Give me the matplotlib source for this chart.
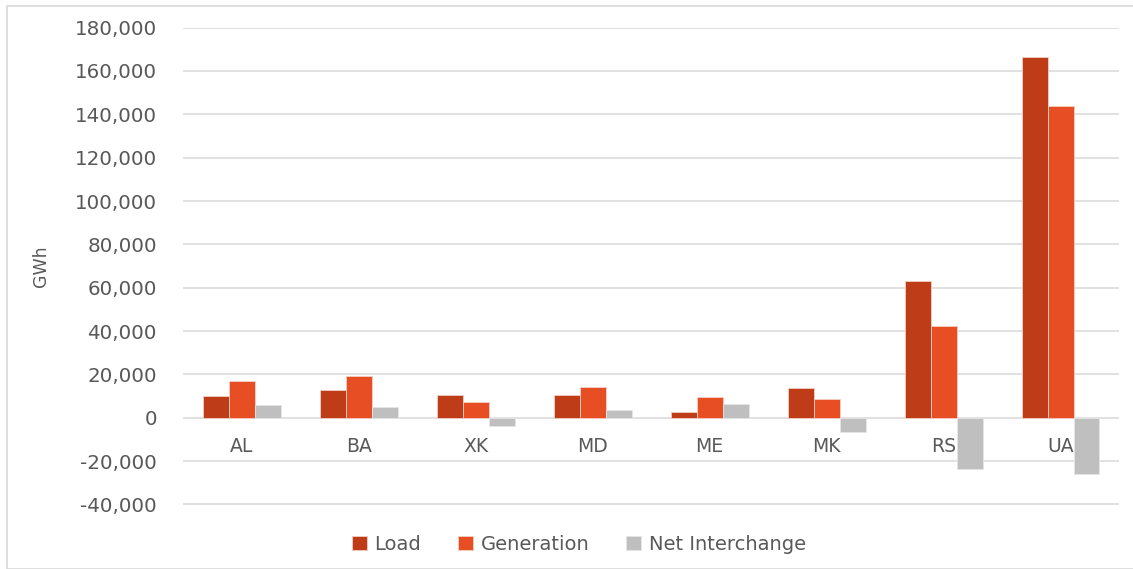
import numpy as np
import matplotlib
matplotlib.use('Agg')
import matplotlib.pyplot as plt
from matplotlib.ticker import FuncFormatter
from matplotlib.patches import Rectangle
import matplotlib.transforms as mtransforms

# 데이터 (GWh)
countries = ['AL', 'BA', 'XK', 'MD', 'ME', 'MK', 'RS', 'UA']
load = [9900, 12900, 10400, 10300, 2800, 13700, 62900, 166500]
generation = [17100, 19400, 7100, 14300, 9500, 8800, 42400, 143900]
net_interchange = [6000, 5100, -3700, 3800, 6300, -6500, -23500, -26000]

series_names = ['Load', 'Generation', 'Net Interchange']
colors = ['#BE3C18', '#E84E23', '#BFBFBF']
text_color = '#595959'

plt.rcParams['font.family'] = ['DejaVu Sans']

fig = plt.figure(figsize=(11.33, 5.69), dpi=100)
ax = fig.add_axes([183.3 / 1133, 1 - 504.5 / 569, (1119 - 183.3) / 1133, (504.5 - 27.6) / 569])

x = np.arange(len(countries))
w = 0.222
for i, (vals, name, c) in enumerate(zip([load, generation, net_interchange], series_names, colors)):
    ax.bar(x + (i - 1) * w, vals, width=w, color=c, edgecolor='#F2D0C4' if i < 2 else '#E6E6E6',
           linewidth=0.6, label=name, zorder=3)

ax.set_xlim(-0.5, len(countries) - 0.5)
ax.set_ylim(-40000, 180000)
ax.set_yticks(np.arange(-40000, 180001, 20000))
ax.yaxis.set_major_formatter(FuncFormatter(lambda v, p: f'{int(v):,}'))
ax.grid(axis='y', color='#D9D9D9', linewidth=1.1, zorder=0)
ax.set_xticks([])
ax.tick_params(axis='y', length=0, pad=19, labelsize=14.3, labelcolor=text_color)
for s in ax.spines.values():
    s.set_visible(False)

# 카테고리 라벨은 0 축 바로 아래에
offset = mtransforms.offset_copy(ax.transData, fig=fig, x=0, y=-14, units='points')
for xi, name in zip(x, countries):
    ax.text(xi, 0, name, transform=offset, ha='center', va='top', fontsize=13.5, color=text_color)

ax.set_ylabel('GWh', fontsize=12.5, color=text_color, family='Liberation Sans Narrow')
ax.yaxis.set_label_coords(-0.142, 0.5)

leg = fig.legend(loc='center', bbox_to_anchor=(579 / 1133, 1 - 544 / 569), ncol=3, frameon=False,
                 fontsize=14, handlelength=0.75, handleheight=0.75, handletextpad=0.4, columnspacing=1.9)
for t in leg.get_texts():
    t.set_color(text_color)

# 차트 테두리
fig.patches.append(Rectangle((7 / 1133, 0), 1.2, 1 - 6 / 569, transform=fig.transFigure,
                             fill=False, edgecolor='#D9D9D9', linewidth=1.2))

fig.savefig('out.png', dpi=100)
